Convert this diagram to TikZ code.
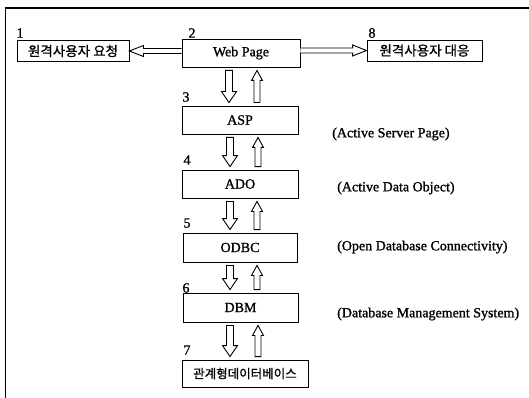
\documentclass[tikz,border=0pt]{standalone}
\usepackage{fontspec}
\setmainfont{Liberation Serif}
\newfontfamily\scan[FakeBold=1.2]{Liberation Serif}
\newfontfamily\kr[FakeBold=1]{Noto Sans CJK KR}
\usetikzlibrary{calc}
\newcommand\darr[3]{%
  \draw[blk] let \p1=(#1.south), \p2=(#2.north) in
    ({#3pt-3.5pt},{\y1-3pt}) -- ({#3pt-3.5pt},{\y2+14pt}) -- ({#3pt-7.5pt},{\y2+14pt})
    -- ({#3pt},{\y2+3pt}) -- ({#3pt+7.5pt},{\y2+14pt}) -- ({#3pt+3.5pt},{\y2+14pt})
    -- ({#3pt+3.5pt},{\y1-3pt}) -- cycle;}
\newcommand\uarr[3]{%
  \draw[blk] let \p1=(#1.south), \p2=(#2.north) in
    ({#3pt-3pt},{\y2+3pt}) -- ({#3pt-3pt},{\y1-13pt}) -- ({#3pt-5.5pt},{\y1-13pt})
    -- ({#3pt},{\y1-3pt}) -- ({#3pt+5.5pt},{\y1-13pt}) -- ({#3pt+3pt},{\y1-13pt})
    -- ({#3pt+3pt},{\y2+3pt}) -- cycle;}
\begin{document}
\begin{tikzpicture}[x=1pt,y=-1pt,
  box/.style={draw,line width=0.9pt,inner sep=0pt,font=\scan\fontsize{14}{16}\selectfont},
  krbox/.style={box,font=\kr\fontsize{13.5}{15}\selectfont},
  num/.style={font=\scan\fontsize{14}{16}\selectfont,inner sep=0pt},
  desc/.style={font=\scan\fontsize{14}{16}\selectfont,anchor=west,inner sep=0pt},
  blk/.style={draw,line width=0.9pt,fill=white,line join=miter}]
\useasboundingbox (0,0) rectangle (529,398);
\draw[line width=1.3pt] (5.5,398) -- (5.5,8) -- (529,8);

\node[krbox,minimum width=112pt,minimum height=21pt] (req) at (73,51) {원격사용자 요청};
\node[box,minimum width=118pt,minimum height=28pt] (web) at (241,53) {Web Page};
\node[krbox,minimum width=115pt,minimum height=21pt] (resp) at (424.5,50.5) {원격사용자 대응};
\node[box,minimum width=116pt,minimum height=28pt] (asp) at (240,120) {ASP};
\node[box,minimum width=116pt,minimum height=28pt] (ado) at (240,184) {ADO};
\node[box,minimum width=114pt,minimum height=29pt] (odbc) at (240,247.5) {ODBC};
\node[box,minimum width=115pt,minimum height=29pt] (dbm) at (240.5,307.5) {DBM};
\node[krbox,font=\kr\fontsize{12.5}{14}\selectfont,minimum width=126pt,minimum height=27pt] (db) at (245,373.5) {관계형데이터베이스};

\node[num] (n1) at (20,33) {1};
\node[num] (n2) at (192,33) {2};
\node[num] (n8) at (372,33) {8};
\node[num] (n3) at (186,97) {3};
\node[num] (n4) at (187,160) {4};
\node[num] (n5) at (187,223) {5};
\node[num] (n6) at (186,288) {6};
\node[num] (n7) at (187,350) {7};

\node[desc] (dasp) at (332,134) {(Active Server Page)};
\node[desc] (dado) at (337,188) {(Active Data Object)};
\node[desc] (dodbc) at (337,247) {(Open Database Connectivity)};
\node[desc] (ddbm) at (337,314) {(Database Management System)};

% horizontal hollow arrows
\draw[blk] let \p1=(web.west |- req.east), \p2=(req.east) in
  (\x1,{\y1-2.5pt}) -- ({\x2+14pt},{\y1-2.5pt}) -- ({\x2+14pt},{\y1-5.5pt}) -- (\x2,\y1)
  -- ({\x2+14pt},{\y1+5.5pt}) -- ({\x2+14pt},{\y1+2.5pt}) -- (\x1,{\y1+2.5pt});
\draw[blk] let \p1=(web.east |- resp.west), \p2=(resp.west) in
  (\x1,{\y1-2.5pt}) -- ({\x2-14pt},{\y1-2.5pt}) -- ({\x2-14pt},{\y1-5.5pt}) -- (\x2,\y1)
  -- ({\x2-14pt},{\y1+5.5pt}) -- ({\x2-14pt},{\y1+2.5pt}) -- (\x1,{\y1+2.5pt});

% vertical hollow arrows
\darr{web}{asp}{229}  \uarr{web}{asp}{257}
\darr{asp}{ado}{230}  \uarr{asp}{ado}{258}
\darr{ado}{odbc}{230} \uarr{ado}{odbc}{257}
\darr{odbc}{dbm}{230} \uarr{odbc}{dbm}{257}
\darr{dbm}{db}{230}   \uarr{dbm}{db}{258}
\end{tikzpicture}
\end{document}
